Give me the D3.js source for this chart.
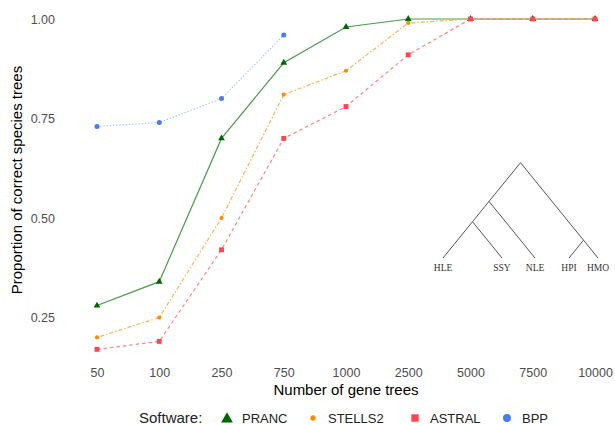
<!DOCTYPE html>
<html lang="en">
<head>
<meta charset="UTF-8">
<title>Proportion of correct species trees</title>
<script src="https://d3js.org/d3.v7.min.js"></script>
<style>
  body { margin: 0; background: #fff; }
  text { font-family: "Liberation Sans", Arial, sans-serif; }
  .tick text { fill: #4d4d4d; font-size: 12.5px; }
  .tree text { font-family: "Liberation Serif", "DejaVu Serif", serif; font-size: 9.5px; fill: #333; }
</style>
</head>
<body>
<svg width="615" height="425"></svg>
<script>
// categories on the x axis
const geneTrees = ["50", "100", "250", "750", "1000", "2500", "5000", "7500", "10000"];
const yTicks = [0.25, 0.5, 0.75, 1.0];

// proportion of correct species trees per method
const pranc   = [0.28, 0.34, 0.70, 0.89, 0.98, 1.00, 1.00, 1.00, 1.00];
const stells2 = [0.20, 0.25, 0.50, 0.81, 0.87, 0.99, 1.00, 1.00, 1.00];
const astral  = [0.17, 0.19, 0.42, 0.70, 0.78, 0.91, 1.00, 1.00, 1.00];
const bpp     = [0.73, 0.74, 0.80, 0.96];

// species tree shown as an inset
const speciesTree = [[["HLE", "SSY"], "NLE"], ["HPI", "HMO"]];

const series = [
  { name: "PRANC",   values: pranc,   color: "#006400", line: "#2f862f", dash: null,        symbol: d3.symbolTriangle, size: 20, lsize: 60, op: 0.85 },
  { name: "STELLS2", values: stells2, color: "#ff8c00", line: "#ffa53a", dash: "1.5,2,4,2", symbol: d3.symbolCircle,   size: 14, lsize: 22, op: 0.85 },
  { name: "ASTRAL",  values: astral,  color: "#ff4552", line: "#ff6f79", dash: "3.5,3",     symbol: d3.symbolSquare,   size: 24, lsize: 55, op: 0.85 },
  { name: "BPP",     values: bpp,     color: "#4a7bf5", line: "#8aaaf7", dash: "1.2,2",     symbol: d3.symbolCircle,   size: 20, lsize: 50, op: 0.8 }
];

const svg = d3.select("svg");

const x = d3.scalePoint().domain(geneTrees).range([97, 595]);
const y = d3.scaleLinear().domain([0, 1]).range([417, 19]);

// y axis
const yAxis = svg.append("g")
  .attr("transform", "translate(60,0)")
  .call(d3.axisLeft(y).tickValues(yTicks).tickFormat(d3.format(".2f")).tickSize(0).tickPadding(5));
yAxis.select(".domain").remove();

// x axis
const xAxis = svg.append("g")
  .attr("transform", "translate(0,365)")
  .call(d3.axisBottom(x).tickSize(0).tickPadding(3));
xAxis.select(".domain").remove();

svg.append("text")
  .attr("x", 346).attr("y", 395)
  .attr("text-anchor", "middle")
  .style("font-size", "15px")
  .text("Number of gene trees");

svg.append("text")
  .attr("transform", "translate(22,180) rotate(-90)")
  .attr("text-anchor", "middle")
  .style("font-size", "15px")
  .text("Proportion of correct species trees");

// lines and points
const line = d3.line()
  .x((d, i) => x(geneTrees[i]))
  .y(d => y(d));

series.forEach(s => {
  svg.append("path")
    .datum(s.values)
    .attr("d", line)
    .attr("fill", "none")
    .attr("stroke", s.line)
    .attr("stroke-width", 1.2)
    .attr("stroke-opacity", s.op)
    .attr("stroke-dasharray", s.dash);
});

series.forEach(s => {
  svg.append("g").selectAll("path")
    .data(s.values)
    .join("path")
    .attr("transform", (d, i) => `translate(${x(geneTrees[i])},${y(d)})`)
    .attr("d", d3.symbol().type(s.symbol).size(s.size))
    .attr("fill", s.color);
});

// legend
const legend = svg.append("g").attr("transform", "translate(0,418)");
legend.append("text")
  .attr("x", 139).attr("dy", "0.35em")
  .style("font-size", "15px")
  .style("fill", "#222")
  .text("Software:");
const legendX = [227, 313, 415, 507];
series.forEach((s, i) => {
  legend.append("path")
    .attr("transform", `translate(${legendX[i]},${s.symbol === d3.symbolTriangle ? 1 : 0})`)
    .attr("d", d3.symbol().type(s.symbol).size(s.lsize))
    .attr("fill", s.color);
  legend.append("text")
    .attr("x", legendX[i] + 15).attr("dy", "0.35em")
    .style("font-size", "13px")
    .style("fill", "#222")
    .text(s.name);
});

// inset species tree (slanted cladogram)
const leafX = { HLE: 443, SSY: 502, NLE: 535, HPI: 569, HMO: 598 };
const base = 258, slope = 1.23;
const tree = svg.append("g").attr("class", "tree");
const root = d3.hierarchy(speciesTree, d => Array.isArray(d) ? d : null);
root.eachAfter(n => {
  if (!n.children) { n.lx = n.rx = leafX[n.data]; }
  else {
    n.lx = d3.min(n.children, c => c.lx);
    n.rx = d3.max(n.children, c => c.rx);
  }
  n.px = (n.lx + n.rx) / 2;
  n.py = base - (n.rx - n.lx) / 2 * slope;
});
root.descendants().filter(n => n.parent).forEach(n => {
  tree.append("line")
    .attr("x1", n.parent.px).attr("y1", n.parent.py)
    .attr("x2", n.px).attr("y2", n.py)
    .attr("stroke", "#555")
    .attr("stroke-width", 1);
});
root.leaves().forEach(n => {
  tree.append("text")
    .attr("x", n.px).attr("y", base + 13)
    .attr("text-anchor", "middle")
    .text(n.data);
});
</script>
</body>
</html>
